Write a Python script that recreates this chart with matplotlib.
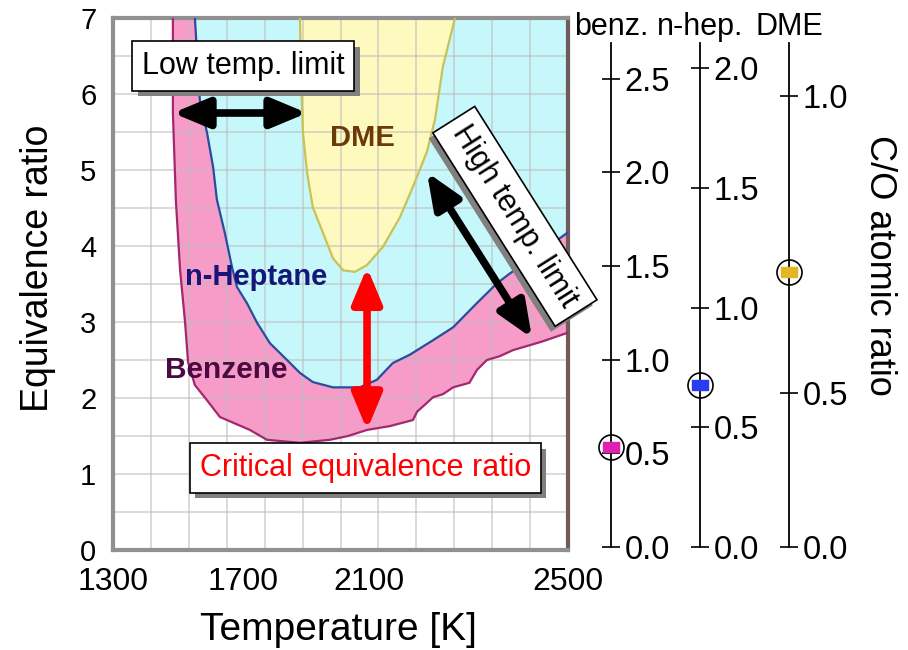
import matplotlib
matplotlib.use('Agg')
import matplotlib.pyplot as plt
import matplotlib.patheffects as pe
import numpy as np

plt.rcParams['font.family'] = ['Liberation Sans', 'DejaVu Sans']

# lower boundaries of the sooting regions (temperature [K], equivalence ratio)
benz_T = [1458, 1458, 1466, 1477, 1490, 1498, 1516, 1548, 1582, 1661, 1706, 1793,
          1872, 1920, 1970, 2030, 2091, 2102, 2120, 2144, 2170, 2197, 2240, 2260,
          2286, 2320, 2355, 2430, 2500]
benz_phi = [7.0, 5.75, 4.58, 3.68, 3.0, 2.47, 2.17, 1.97, 1.75, 1.58, 1.45, 1.41,
            1.45, 1.50, 1.58, 1.63, 1.71, 1.82, 1.90, 2.01, 2.05, 2.14, 2.20, 2.37,
            2.5, 2.55, 2.63, 2.74, 2.86]
hept_T = [1516, 1529, 1548, 1564, 1574, 1595, 1614, 1627, 1653, 1680, 1714, 1759, 1793,
          1827, 1880, 1951, 1996, 2038, 2083, 2144, 2197, 2260, 2313, 2347, 2400, 2500]
hept_phi = [7.0, 5.92, 5.49, 5.04, 4.61, 4.17, 3.72, 3.46, 3.25, 2.99, 2.72, 2.5, 2.33,
            2.21, 2.14, 2.14, 2.24, 2.46, 2.57, 2.76, 2.93, 3.25, 3.51, 3.64, 3.82, 4.18]
dme_T = [1793, 1798, 1801, 1812, 1827, 1854, 1880, 1907, 1938, 1970, 2012, 2057, 2091,
         2128, 2149, 2170, 2202]
dme_phi = [7.0, 5.92, 5.49, 4.96, 4.51, 4.17, 3.84, 3.68, 3.66, 3.75, 3.99, 4.38, 4.78,
           5.24, 5.66, 6.36, 7.0]

x_ticklabels = ['1300', '1700', '2100', '2500']
y_ticklabels = ['0', '1', '2', '3', '4', '5', '6', '7']

# C/O atomic ratio at the critical equivalence ratio
fuels = ['benz.', 'n-hep.', 'DME']
co_ratio = [0.534, 0.677, 0.704]
co_colors = ['#e020b0', '#2a3cf0', '#e2b624']

W, H = 908, 650
fig = plt.figure(figsize=(W / 100, H / 100), dpi=100)
ax = fig.add_axes([113 / W, 1 - 550 / H, 455 / W, 532 / H])
ax.set_xlim(1300, 2500)
ax.set_ylim(0, 7)

regions = [(benz_T, benz_phi, '#f79cc9', '#a3286e'),
           (hept_T, hept_phi, '#c6f7fb', '#2a4c9c'),
           (dme_T, dme_phi, '#fdf9bf', '#c9c256')]
for T, phi, fc, ec in regions:
    ax.fill(T + [T[-1] + 20, T[0]], phi + [7.5, 7.5], color=fc, lw=0, zorder=1)
    ax.plot(T, phi, color=ec, lw=1.6, zorder=3)

# grid
for t in np.arange(1400, 2500, 100):
    ax.axvline(t, color='#bdbdbd', lw=1.3, alpha=0.6, zorder=2)
for p in np.arange(0.5, 7, 0.5):
    ax.axhline(p, color='#bdbdbd', lw=1.3, alpha=0.6, zorder=2)

ax.set_xticks([1300, 1643, 1975, 2500])
ax.set_xticklabels(x_ticklabels, fontsize=23)
ax.set_yticks(range(8))
ax.set_yticklabels(y_ticklabels, fontsize=21)
ax.tick_params(length=0, pad=12)
for s in ax.spines.values():
    s.set_linewidth(3)
    s.set_color('#909090')
ax.spines['right'].set_color('#705a5a')

fig.text(338 / W, 1 - 630 / H, 'Temperature [K]', fontsize=28, ha='center', va='center')
fig.text(38 / W, 1 - 268 / H, 'Equivalence ratio', fontsize=27, rotation=90,
         ha='center', va='center')

box = dict(boxstyle='square,pad=0.32', fc='white', ec='black', lw=1.2)
shadow = [pe.withSimplePatchShadow(offset=(4, -4), shadow_rgbFace='#808080', alpha=1.0)]

t1 = ax.text(1643, 6.37, 'Low temp. limit', fontsize=22, ha='center', va='center',
             bbox=box, zorder=6)
t1.get_bbox_patch().set_path_effects(shadow)
t2 = ax.text(1965, 1.08, 'Critical equivalence ratio', fontsize=22, color='red',
             ha='center', va='center', bbox=box, zorder=6)
t2.get_bbox_patch().set_path_effects(shadow)
t3 = ax.text(2360, 4.39, 'High temp. limit', fontsize=22, ha='center', va='center',
             rotation=-57.7, rotation_mode='anchor', bbox=box, zorder=6)
t3.get_bbox_patch().set_path_effects(
    [pe.withSimplePatchShadow(offset=(-3, -4), shadow_rgbFace='#808080', alpha=1.0)])

ax.text(1957, 5.42, 'DME', color='#6b3a06', fontsize=21, fontweight='bold',
        ha='center', va='center', zorder=5)
ax.text(1490, 3.59, 'n-Heptane', color='#17177a', fontsize=21, fontweight='bold',
        ha='left', va='center', zorder=5)
ax.text(1437, 2.37, 'Benzene', color='#4a0a42', fontsize=21.5, fontweight='bold',
        ha='left', va='center', zorder=5)

arrow = dict(arrowstyle='<|-|>,head_length=1.2,head_width=0.5', lw=5.5,
             mutation_scale=18, shrinkA=0, shrinkB=0)
ax.annotate('', xy=(1812, 5.75), xytext=(1458, 5.75),
            arrowprops=dict(arrow, color='black'), zorder=7)
ax.annotate('', xy=(1970, 1.58), xytext=(1970, 3.72),
            arrowprops=dict(arrow, color='red'), zorder=7)
ax.annotate('', xy=(2405, 2.79), xytext=(2128, 4.97),
            arrowprops=dict(arrow, color='black'), zorder=7)

# C/O atomic ratio axes
side = [(611, 0, 2.69, [0, 0.5, 1.0, 1.5, 2.0, 2.5], ['0.0', '0.5', '1.0', '1.5', '2.0', '2.5']),
        (700, 0, 2.106, [0, 0.5, 1.0, 1.5, 2.0], ['0.0', '0.5', '1.0', '1.5', '2.0']),
        (789, 0.240, 1.090, [0.240, 0.5, 1.0], ['0.0', '0.5', '1.0'])]
rect = [(-1, -0.6), (1, -0.6), (1, 0.6), (-1, 0.6), (-1, -0.6)]
for (xp, lo, hi, ticks, labels), name, val, col in zip(side, fuels, co_ratio, co_colors):
    a = fig.add_axes([xp / W, 1 - 547 / H, 0.0001, 504 / H])
    a.patch.set_visible(False)
    a.set_xlim(-1, 1)
    a.set_ylim(lo, hi)
    for s in ['top', 'bottom', 'left']:
        a.spines[s].set_visible(False)
    a.spines['right'].set_linewidth(1.3)
    a.set_xticks([])
    a.yaxis.tick_right()
    a.set_yticks(ticks)
    a.set_yticklabels(labels, fontsize=23.5)
    a.tick_params(axis='y', direction='inout', length=13, width=1.2, pad=3)
    a.set_title(name, fontsize=22, pad=6)
    a.plot(0, val, marker=rect, ms=11.5, color=col, clip_on=False, zorder=5)
    a.plot(0, val, 'o', ms=18, mfc='none', mec='black', mew=1.2, clip_on=False, zorder=6)

fig.text(880 / W, 1 - 265 / H, 'C/O atomic ratio', fontsize=26, rotation=-90,
         ha='center', va='center')

fig.savefig('out.png', dpi=100)
